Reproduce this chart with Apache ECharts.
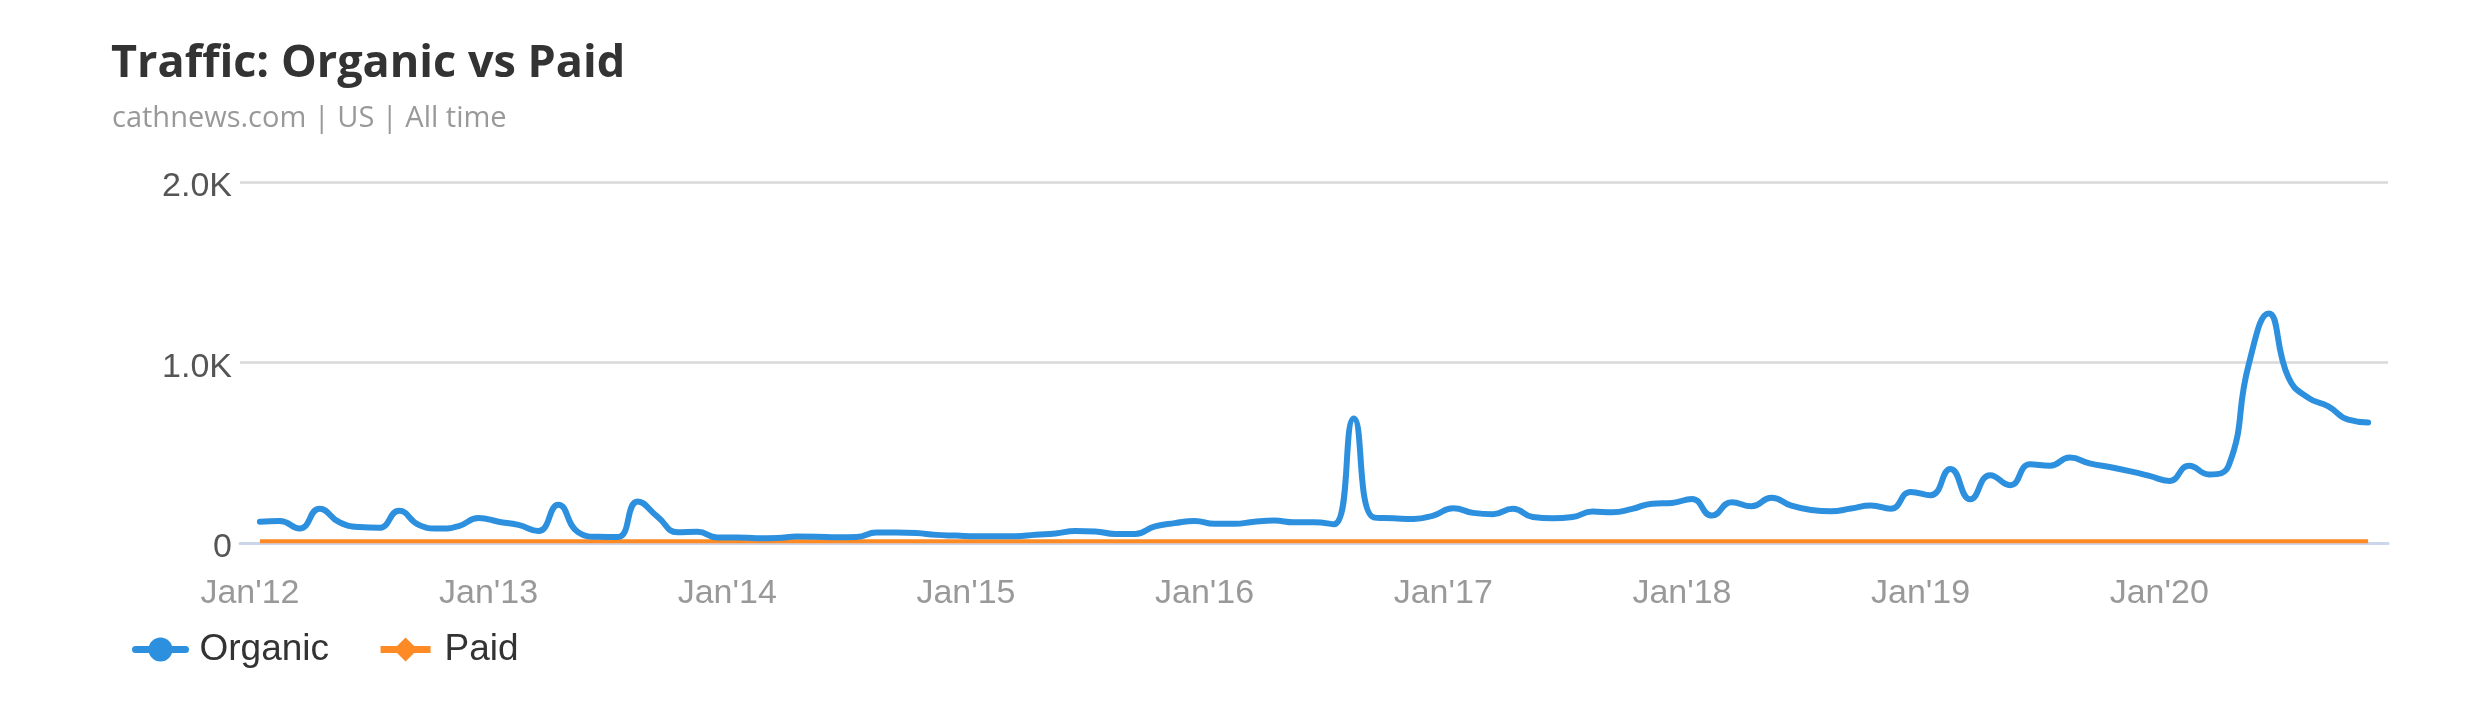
<!DOCTYPE html>
<html>
<head>
<meta charset="utf-8">
<script src="https://cdn.jsdelivr.net/npm/echarts@6/dist/echarts.min.js"></script>
<style>
html,body{margin:0;padding:0;background:#fff;}
#chart{width:2479px;height:721px;}
</style>
</head>
<body>
<div id="chart"></div>
<script>
const titleText = 'Traffic: Organic vs Paid';
const subtitleText = 'cathnews.com | US | All time';

const months = [
'2012-01','2012-02','2012-03','2012-04','2012-05','2012-06','2012-07','2012-08','2012-09','2012-10','2012-11','2012-12',
'2013-01','2013-02','2013-03','2013-04','2013-05','2013-06','2013-07','2013-08','2013-09','2013-10','2013-11','2013-12',
'2014-01','2014-02','2014-03','2014-04','2014-05','2014-06','2014-07','2014-08','2014-09','2014-10','2014-11','2014-12',
'2015-01','2015-02','2015-03','2015-04','2015-05','2015-06','2015-07','2015-08','2015-09','2015-10','2015-11','2015-12',
'2016-01','2016-02','2016-03','2016-04','2016-05','2016-06','2016-07','2016-08','2016-09','2016-10','2016-11','2016-12',
'2017-01','2017-02','2017-03','2017-04','2017-05','2017-06','2017-07','2017-08','2017-09','2017-10','2017-11','2017-12',
'2018-01','2018-02','2018-03','2018-04','2018-05','2018-06','2018-07','2018-08','2018-09','2018-10','2018-11','2018-12',
'2019-01','2019-02','2019-03','2019-04','2019-05','2019-06','2019-07','2019-08','2019-09','2019-10','2019-11','2019-12',
'2020-01','2020-02','2020-03','2020-04','2020-05','2020-06','2020-07','2020-08','2020-09','2020-10','2020-11'
];

const organic = [
118,122,80,190,115,88,84,178,100,80,94,138,
118,100,66,212,60,34,33,230,145,60,62,30,
30,27,28,36,35,32,33,58,58,55,45,41,
37,37,37,46,53,66,64,50,50,92,110,122,
106,106,118,124,115,115,104,690,142,137,133,152,
192,167,159,190,144,137,144,174,170,189,218,222,
244,152,226,203,251,207,183,176,191,208,190,283,
264,410,242,376,320,436,428,473,441,421,398,372,
344,428,380,432,990,1272,915,804,757,683,668
];

const paid = [
10,10,10,10,10,10,10,10,10,10,10,10,
10,10,10,10,10,10,10,10,10,10,10,10,
10,10,10,10,10,10,10,10,10,10,10,10,
10,10,10,10,10,10,10,10,10,10,10,10,
10,10,10,10,10,10,10,10,10,10,10,10,
10,10,10,10,10,10,10,10,10,10,10,10,
10,10,10,10,10,10,10,10,10,10,10,10,
10,10,10,10,10,10,10,10,10,10,10,10,
10,10,10,10,10,10,10,10,10,10,10
];

const xTickMonths = ['2012-01','2013-01','2014-01','2015-01','2016-01','2017-01','2018-01','2019-01','2020-01'];
const xTickLabels = ["Jan'12","Jan'13","Jan'14","Jan'15","Jan'16","Jan'17","Jan'18","Jan'19","Jan'20"];
const yTickLabels = {0:'0', 1000:'1.0K', 2000:'2.0K'};

// x position: months since Jan 2012; monthly points sit mid-month
const monthIndex = m => { const [y, mo] = m.split('-').map(Number); return (y - 2012) * 12 + (mo - 1); };
const organicData = months.map((m, i) => [monthIndex(m) + 0.5, organic[i]]);
const paidData = months.map((m, i) => [monthIndex(m) + 0.5, paid[i]]);
const xTickValues = xTickMonths.map(monthIndex);

const chart = echarts.init(document.getElementById('chart'), null, {renderer: 'canvas'});
chart.setOption({
  animation: false,
  backgroundColor: '#ffffff',
  title: [
    {text: titleText, left: 106, top: 37,
     textStyle: {fontFamily: 'Open Sans', fontWeight: 'bold', fontSize: 45, color: '#333333'}},
    {text: subtitleText, left: 107, top: 99,
     textStyle: {fontFamily: 'Open Sans', fontWeight: 'normal', fontSize: 29, color: '#999999'}}
  ],
  legend: {
    left: 127, top: 626,
    itemWidth: 50, itemHeight: 30, itemGap: 48,
    lineStyle: {width: 7},
    textStyle: {fontFamily: 'Liberation Sans', fontSize: 37, color: '#333333', padding: [0,0,0,9]},
    data: ['Organic', 'Paid']
  },
  grid: {left: 240, right: 91, top: 182, bottom: 178},
  xAxis: {
    type: 'value', min: -0.5, max: 107.5,
    splitLine: {show: false},
    axisTick: {show: false},
    axisLine: {show: true, onZero: false, lineStyle: {color: '#ccd6eb', width: 3}},
    axisLabel: {
      customValues: xTickValues,
      margin: 34,
      fontFamily: 'Liberation Sans', fontSize: 34, color: '#999999',
      formatter: v => xTickLabels[xTickValues.indexOf(v)] || ''
    }
  },
  yAxis: {
    type: 'value', min: 0, max: 2000, interval: 1000,
    axisLine: {show: false},
    axisTick: {show: false},
    splitLine: {show: true, lineStyle: {color: '#d9d9d9', width: 2.5}},
    axisLabel: {
      margin: 8,
      verticalAlign: 'top',
      lineHeight: 10,
      fontFamily: 'Liberation Sans', fontSize: 34, color: '#555555',
      formatter: v => yTickLabels[v] !== undefined ? yTickLabels[v] : ''
    }
  },
  series: [
    {
      name: 'Organic', type: 'line', data: organicData,
      smooth: 0.5, showSymbol: false, symbol: 'circle', symbolSize: 24,
      lineStyle: {color: '#2d90de', width: 6, cap: 'round', join: 'round'},
      itemStyle: {color: '#2d90de'},
      z: 3
    },
    {
      name: 'Paid', type: 'line', data: paidData,
      smooth: 0.5, showSymbol: false, symbol: 'diamond', symbolSize: 24,
      lineStyle: {color: '#fd8a24', width: 4},
      itemStyle: {color: '#fd8a24'},
      z: 2
    }
  ]
});
</script>
</body>
</html>
